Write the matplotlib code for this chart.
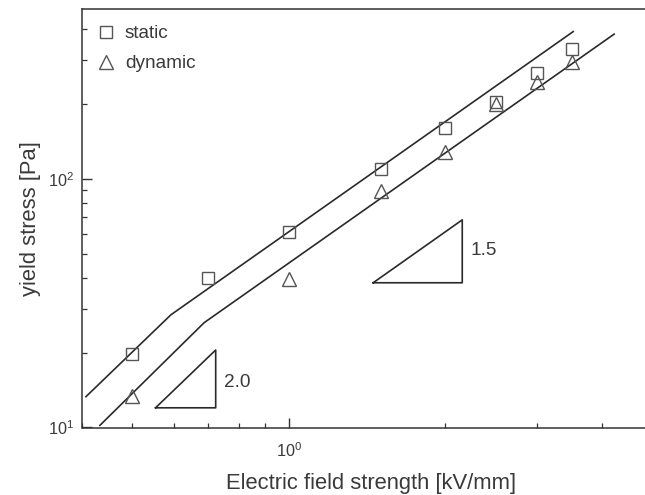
import numpy as np
import matplotlib
matplotlib.use("Agg")
import matplotlib.pyplot as plt
from matplotlib.ticker import LogLocator, NullFormatter

plt.rcParams['font.family'] = ['Liberation Sans', 'DejaVu Sans']
plt.rcParams['mathtext.default'] = 'regular'

# measured yield stress
static_E = [0.5, 0.7, 1.0, 1.5, 2.0, 2.5, 3.0, 3.5]
static_tau = [19.8, 40, 61, 110, 160, 204, 267, 333]
dynamic_E = [0.5, 1.0, 1.5, 2.0, 2.5, 3.0, 3.5]
dynamic_tau = [13.4, 39.6, 89.5, 128.5, 200, 245, 295]

# power-law fits (two regimes, slope 2.0 then 1.5)
fit_static_E = [0.407, 0.593, 3.52]
fit_static_tau = [13.3, 28.4, 391]
fit_dynamic_E = [0.433, 0.687, 4.22]
fit_dynamic_tau = [10.2, 26.4, 382]

# slope guide triangles: (x0, x1, y0, y1)
tri_20 = (0.554, 0.723, 12.0, 20.5)
tri_15 = (1.452, 2.154, 38.2, 68.4)

ink = '#2a2a2a'
mark = '#555555'
txt = '#3a3a3a'

fig = plt.figure(figsize=(6.45, 4.95), dpi=100)
ax = fig.add_axes([82 / 645, (495 - 427.5) / 495, (660 - 82) / 645, (427.5 - 9) / 495])
ax.set_xscale('log')
ax.set_yscale('log')

ax.plot(fit_static_E, fit_static_tau, color=ink, lw=1.2)
ax.plot(fit_dynamic_E, fit_dynamic_tau, color=ink, lw=1.2)
ax.plot(static_E, static_tau, 's', mfc='none', mec=mark, mew=1.0, ms=8.8, label='static')
ax.plot(dynamic_E, dynamic_tau, '^', mfc='none', mec=mark, mew=1.0, ms=9.8, label='dynamic')

for (x0, x1, y0, y1) in [tri_20, tri_15]:
    ax.plot([x0, x1, x1, x0], [y0, y0, y1, y0], color=ink, lw=1.2)
ax.text(0.75, 15.1, '2.0', fontsize=13.7, color=txt, ha='left', va='center')
ax.text(2.23, 51.6, '1.5', fontsize=13.7, color=txt, ha='left', va='center')

ax.set_xlim(0.4, 5.17)
ax.set_ylim(10, 482)
ax.xaxis.set_major_locator(LogLocator(base=10, numticks=10))
ax.xaxis.set_minor_locator(LogLocator(base=10, subs=np.arange(2, 10) * 0.1, numticks=10))
ax.xaxis.set_minor_formatter(NullFormatter())
ax.yaxis.set_minor_formatter(NullFormatter())

for side in ['top', 'bottom', 'left', 'right']:
    ax.spines[side].set_color('#333333')
    ax.spines[side].set_linewidth(1.1)
ax.tick_params(which='both', direction='in', colors='#333333', labelsize=11.7, top=False, right=False)
ax.tick_params(which='major', length=7, width=1.0, pad=6)
ax.tick_params(axis='x', which='major', pad=10)
ax.tick_params(which='minor', length=3.5, width=0.9)
ax.tick_params(labelcolor=txt)

ax.set_xlabel('Electric field strength [kV/mm]', fontsize=15.8, color=txt, labelpad=9)
ax.set_ylabel('yield stress [Pa]', fontsize=15.8, color=txt, labelpad=5)

ax.legend(loc='upper left', frameon=False, fontsize=13.7, handlelength=0.8,
          handletextpad=0.6, labelspacing=0.65, borderaxespad=0.45, labelcolor=txt)

fig.savefig('out.png', dpi=100)
